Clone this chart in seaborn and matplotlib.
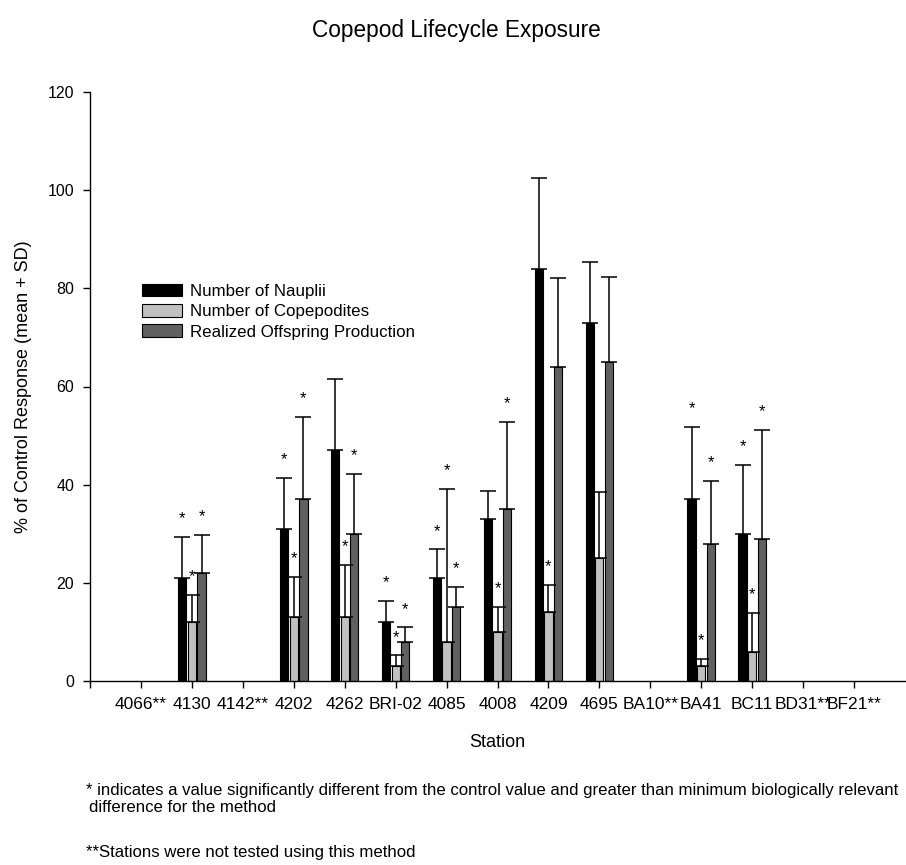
import matplotlib
matplotlib.use("Agg")
import matplotlib.pyplot as plt
import seaborn as sns
import pandas as pd

stations = ["4066**", "4130", "4142**", "4202", "4262", "BRI-02", "4085", "4008",
            "4209", "4695", "BA10**", "BA41", "BC11", "BD31**", "BF21**"]
tested = ["4130", "4202", "4262", "BRI-02", "4085", "4008", "4209", "4695", "BA41", "BC11"]
endpoints = ["Number of Nauplii", "Number of Copepodites", "Realized Offspring Production"]

nauplii = [21, 31, 47, 12, 21, 33, 84, 73, 37, 30]
copepodites = [12, 13, 13, 3, 8, 10, 14, 25, 3, 6]
offspring = [22, 37, 30, 8, 15, 35, 64, 65, 28, 29]

nauplii_sd = [8.4, 10.3, 14.5, 4.3, 5.8, 5.7, 18.5, 12.3, 14.7, 14.0]
copepodites_sd = [5.5, 8.2, 10.6, 2.2, 31.1, 5.0, 5.6, 13.5, 1.4, 7.9]
offspring_sd = [7.7, 16.7, 12.2, 2.9, 4.2, 17.8, 18.2, 17.3, 12.7, 22.2]

# significance flags (1 = star)
sig_nauplii = [1, 1, 0, 1, 1, 0, 0, 0, 1, 1]
sig_copepodites = [1, 1, 1, 1, 1, 1, 1, 0, 1, 1]
sig_offspring = [1, 1, 1, 1, 1, 1, 0, 0, 1, 1]

colors = ["#000000", "#c0c0c0", "#606060"]

rows = []
for vals, sds, sigs, ep in [(nauplii, nauplii_sd, sig_nauplii, endpoints[0]),
                            (copepodites, copepodites_sd, sig_copepodites, endpoints[1]),
                            (offspring, offspring_sd, sig_offspring, endpoints[2])]:
    for st, v, sd, sg in zip(tested, vals, sds, sigs):
        rows.append({"Station": st, "Endpoint": ep, "Value": v, "SD": sd, "Sig": sg})
df = pd.DataFrame(rows)

sns.set_style("ticks", {"axes.edgecolor": "black", "text.color": "black",
                        "xtick.color": "black", "ytick.color": "black",
                        "axes.labelcolor": "black"})
plt.rcParams["font.family"] = ["Liberation Sans", "DejaVu Sans"]

fig = plt.figure(figsize=(9.06, 8.65), dpi=100)
ax = fig.add_axes([90 / 906, 1 - 681 / 865, 815 / 906, 589 / 865])

sns.barplot(data=df, x="Station", y="Value", hue="Endpoint", order=stations,
            hue_order=endpoints, palette=colors, width=0.57, gap=0.15,
            edgecolor="black", linewidth=0.8, errorbar=None, ax=ax, legend=True)

# error bars and significance stars from the drawn bars
for ep, cont in zip(endpoints, ax.containers):
    sub = df[df["Endpoint"] == ep]
    for bar in cont:
        cx = bar.get_x() + bar.get_width() / 2
        st = stations[int(round(cx))]
        r = sub[sub["Station"] == st]
        if r.empty:
            continue
        v = r["Value"].iloc[0]
        sd = r["SD"].iloc[0]
        ax.errorbar(cx, v, yerr=[[0], [sd]], fmt="none", ecolor="black",
                    elinewidth=1.1, capsize=6, capthick=1.1)
        if r["Sig"].iloc[0]:
            ax.text(cx, v + sd + 2.2, "*", ha="center", va="bottom", fontsize=12)

ax.set_xlim(-1, 15)
ax.set_ylim(0, 120)
ax.set_xticks(range(-1, 15))
ax.set_xticklabels([""] + stations, fontsize=12.5)
ax.set_yticks(range(0, 121, 20))
ax.tick_params(axis="y", labelsize=11.5, length=5, width=1, pad=6.5)
ax.tick_params(axis="x", length=5, width=1, pad=6.5)
sns.despine(ax=ax)
ax.spines["left"].set_linewidth(1)
ax.spines["bottom"].set_linewidth(1)

ax.set_xlabel("Station", fontsize=13, labelpad=16)
ax.set_ylabel("% of Control Response (mean + SD)", fontsize=13, labelpad=11)

leg = ax.legend(loc="upper left", bbox_to_anchor=(142 / 906, 1 - 284 / 865),
                bbox_transform=fig.transFigure, frameon=False, fontsize=12.2,
                handlelength=2.35, handleheight=0.75, labelspacing=0.3,
                handletextpad=0.47, borderpad=0, borderaxespad=0)
for h in leg.legend_handles:
    h.set_edgecolor("black")
    h.set_linewidth(0.8)

fig.text(456 / 906, 1 - 30 / 865, "Copepod Lifecycle Exposure", ha="center",
         va="center", fontsize=16.3)
fig.text(86 / 906, 1 - 790 / 865,
         "* indicates a value significantly different from the control value and greater than minimum biologically relevant",
         ha="left", va="center", fontsize=12.1)
fig.text(89 / 906, 1 - 808 / 865, "difference for the method",
         ha="left", va="center", fontsize=12.1)
fig.text(86 / 906, 1 - 853 / 865, "**Stations were not tested using this method",
         ha="left", va="center", fontsize=12.1)

fig.savefig("out.png", dpi=100)
